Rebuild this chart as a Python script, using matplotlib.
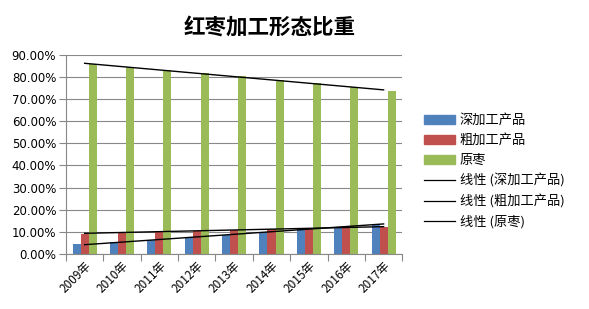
import matplotlib
matplotlib.use("Agg")
import matplotlib.pyplot as plt
import numpy as np
from matplotlib.patches import Patch
from matplotlib.lines import Line2D

plt.rcParams['font.family'] = ['Noto Sans CJK SC', 'DejaVu Sans']

years = ["2009年", "2010年", "2011年", "2012年", "2013年", "2014年", "2015年", "2016年", "2017年"]
deep = [4.5, 5.4, 6.3, 7.5, 8.7, 10.1, 11.6, 12.3, 13.6]
coarse = [9.0, 9.8, 10.3, 10.6, 10.9, 11.2, 11.5, 12.2, 12.1]
raw = [86.0, 84.3, 83.0, 81.9, 80.6, 78.6, 77.4, 75.4, 73.8]
names = ["深加工产品", "粗加工产品", "原枣"]
colors = ["#4F81BD", "#C0504D", "#9BBB59"]
yticks = [0, 10, 20, 30, 40, 50, 60, 70, 80, 90]

fig = plt.figure(figsize=(5.89, 3.09), dpi=100)
ax = fig.add_axes([0.112, 0.178, 0.571, 0.645])

x = np.arange(len(years))
w = 0.215
series = [deep, coarse, raw]
for i, (vals, c) in enumerate(zip(series, colors)):
    ax.bar(x + (i - 1) * w, vals, width=w, color=c, zorder=2)

for vals in series:
    k, b = np.polyfit(x, vals, 1)
    ax.plot(x, k * x + b, color='black', lw=1.0, zorder=3)

ax.set_xlim(-0.5, len(years) - 0.5)
ax.set_ylim(0, 90)
ax.set_yticks(yticks)
ax.set_yticklabels([f"{v:.2f}%" for v in yticks], fontsize=8.5, family='DejaVu Sans')
ax.yaxis.grid(True, color='#888888', lw=0.8, zorder=0)
ax.set_axisbelow(True)
ax.set_xticks(np.arange(-0.5, len(years), 1.0))
ax.set_xticklabels([])
ax.set_xticks(x, minor=True)
ax.set_xticklabels(years, minor=True, rotation=45, ha='right', rotation_mode='anchor', fontsize=8.5)
ax.tick_params(axis='x', which='minor', length=0, pad=4)
ax.tick_params(axis='x', which='major', length=5, color='#888888', direction='out')
ax.tick_params(axis='y', length=5, color='#888888', direction='out', pad=2)
for s in ['top', 'right']:
    ax.spines[s].set_visible(False)
for s in ['left', 'bottom']:
    ax.spines[s].set_color('#888888')

fig.text(0.457, 0.912, "红枣加工形态比重", ha='center', va='center', fontsize=15.5, fontweight='bold')

handles = [Patch(color=c) for c in colors] + [Line2D([0], [0], color='black', lw=0.9)] * 3
labels = names + [f"线性 ({n})" for n in names]
fig.legend(handles, labels, loc='center left', bbox_to_anchor=(0.70, 0.445), frameon=False,
           fontsize=9.5, handlelength=2.3, handleheight=0.65, labelspacing=0.52, handletextpad=0.4)

fig.savefig("out.png", dpi=100)
